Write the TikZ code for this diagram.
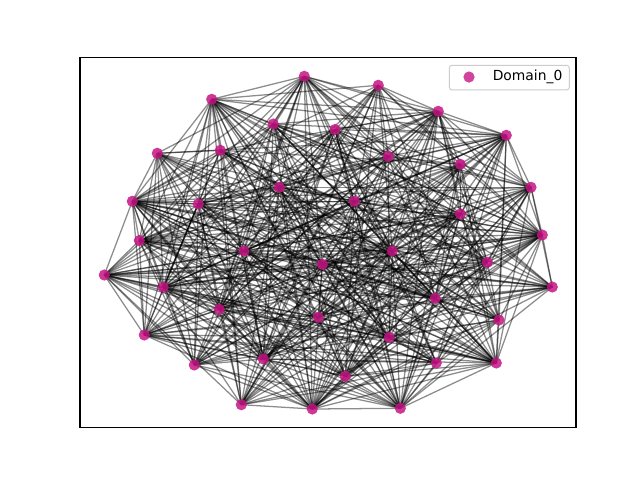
\documentclass[tikz,border=0pt]{standalone}
\usepackage{fontspec}
\setmainfont{DejaVu Sans}
\definecolor{nodecol}{RGB}{199,21,133}
\definecolor{legedge}{RGB}{204,204,204}
\begin{document}
\begin{tikzpicture}[x=0.75pt,y=-0.75pt,
  edge/.style={black,opacity=0.45,line width=0.95pt},
  vertex/.style={circle,fill=nodecol,fill opacity=0.85,inner sep=0pt,minimum size=8.4pt,draw=none},
  frame/.style={black,line width=0.8pt},
  legbox/.style={draw=legedge,fill=white,fill opacity=0.8,rounded corners=2pt,line width=0.75pt}]
\useasboundingbox (0,0) rectangle (640,480);
\fill[white] (0,0) rectangle (640,480);
\foreach \k/\x/\y in {
1/304.3/76.3, 2/378.3/85.3, 3/211.7/99.3, 4/438.3/111.3, 5/506.3/135.3,
6/273.3/124, 7/335/129.5, 8/157.3/153.3, 9/220.3/150.3, 10/388.3/156.3,
11/460.3/164.3, 12/531/187.3, 13/132.3/201.3, 14/279.3/187.3, 15/354.3/201.3,
16/198.3/204, 17/460.3/214, 18/542.3/235, 19/139.3/240.5, 20/244/251,
21/392.3/251, 22/322.3/264.3, 23/487.3/262.3, 24/104.3/275, 25/163.3/287.3,
26/552.3/287, 27/435.3/298.3, 28/219.3/309.3, 29/318.3/317.3, 30/499/320,
31/144.3/335, 32/389.3/337.3, 33/263.3/359, 34/194.3/365, 35/436.3/363,
36/496.3/363, 37/345.3/376.3, 38/241.3/404.7, 39/312.3/409, 40/400.3/408.3}
  {\coordinate (p\k) at (\x,\y);}
\pgfmathsetseed{7}
\foreach \i in {1,...,40}{
  \foreach \j in {1,...,40}{
    \ifnum\j>\i
      \pgfmathsetmacro\r{rnd}
      \pgfmathtruncatemacro\ok{\r<0.65?1:0}
      \ifnum\ok=1 \draw[edge] (p\i) -- (p\j); \fi
    \fi
  }
}
\foreach \k in {1,...,40}{\node[vertex] (n\k) at (p\k) {};}
\draw[frame] (80,57.6) rectangle (576,427.2);
\node[legbox,minimum width=90pt,minimum height=18.5pt,inner sep=0pt] (leg) at (509.3,77.6) {};
\node[vertex,fill opacity=0.8] (legm) at (469,77) {};
\node[anchor=west,inner sep=0pt,font=\fontsize{10.4pt}{12pt}\selectfont] (legt) at (492.5,77) {Domain\_0};
\end{tikzpicture}
\end{document}
